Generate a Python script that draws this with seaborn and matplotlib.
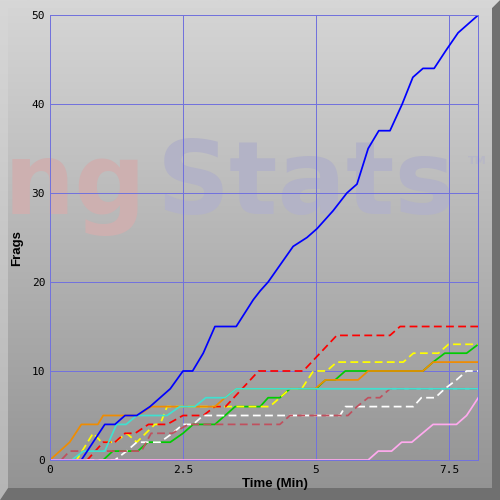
import numpy as np
import pandas as pd
import matplotlib
matplotlib.use("Agg")
import matplotlib.pyplot as plt
from matplotlib.patches import Polygon
import seaborn as sns

# cumulative frags over time (minutes), one pair of lists per player line
blue_t = [0, 0.59, 1.03, 1.22, 1.41, 1.63, 1.88, 2.07, 2.26, 2.38, 2.5, 2.68, 2.88, 3.1, 3.5, 3.82,
          3.95, 4.1, 4.57, 4.83, 5.02, 5.32, 5.58, 5.77, 5.98, 6.18, 6.39, 6.62, 6.82, 7.01, 7.22,
          7.44, 7.67, 8.05]
blue_f = [0, 0, 4, 4, 5, 5, 6, 7, 8, 9, 10, 10, 12, 15, 15, 18,
          19, 20, 24, 25, 26, 28, 30, 31, 35, 37, 37, 40, 43, 44, 44,
          46, 48, 50]

red_t = [0, 0.7, 1.0, 1.22, 1.41, 1.6, 1.85, 2.2, 2.5, 2.88, 3.1, 3.3, 3.92, 4.76, 5.39, 6.39, 6.58, 8.05]
red_f = [0, 0, 2, 2, 3, 3, 4, 4, 5, 5, 6, 6, 10, 10, 14, 14, 15, 15]

yellow_t = [0, 0.5, 0.81, 0.97, 1.22, 1.44, 1.63, 1.97, 2.07, 2.2, 4.13, 4.32, 4.51, 4.73, 4.95,
            5.2, 5.39, 6.64, 6.83, 7.3, 7.49, 8.05]
yellow_f = [0, 0, 3, 2, 2, 3, 2, 4, 4, 6, 6, 7, 8, 8, 10,
            10, 11, 11, 12, 12, 13, 13]

green_t = [0, 1.0, 1.18, 1.65, 1.84, 2.26, 2.5, 2.69, 3.1, 3.48, 3.95, 4.1, 4.32, 4.51, 5.0, 5.18,
           5.36, 5.55, 7.01, 7.2, 7.42, 7.83, 8.05]
green_f = [0, 0, 1, 1, 2, 2, 3, 4, 4, 6, 6, 7, 7, 8, 8, 9,
           9, 10, 10, 11, 12, 12, 13]

orange_t = [0, 0.37, 0.59, 0.9, 1.0, 1.65, 1.9, 3.1, 3.29, 3.5, 4.98, 5.18, 5.79, 5.98, 7.01, 7.2, 8.05]
orange_f = [0, 2, 4, 4, 5, 5, 6, 6, 7, 8, 8, 9, 9, 10, 10, 11, 11]

cyan_t = [0, 0.41, 0.63, 1.03, 1.25, 1.43, 1.63, 2.2, 2.44, 2.72, 2.93, 3.29, 3.5, 8.05]
cyan_f = [0, 0, 1, 1, 4, 4, 5, 5, 6, 6, 7, 7, 8, 8]

white_t = [0, 1.22, 1.44, 1.63, 2.07, 2.3, 2.5, 2.69, 2.88, 5.45, 5.55, 6.83, 6.98, 7.24, 7.42,
           7.64, 7.83, 8.05]
white_f = [0, 0, 1, 2, 2, 3, 4, 4, 5, 5, 6, 6, 7, 7, 8,
           9, 10, 10]

rose_t = [0, 0.21, 0.37, 1.72, 1.9, 2.3, 2.6, 4.32, 4.51, 5.6, 5.77, 5.98, 6.2, 6.39, 8.05]
rose_f = [0, 0, 1, 1, 3, 3, 4, 4, 5, 5, 6, 7, 7, 8, 8]

pink_t = [0, 5.98, 6.17, 6.42, 6.61, 6.8, 7.0, 7.2, 7.64, 7.83, 8.05]
pink_f = [0, 0, 1, 1, 2, 2, 3, 4, 4, 5, 7]

x_ticks = [0, 2.5, 5, 7.5]
x_labels = ["0", "2.5", "5", "7.5"]
y_ticks = [0, 10, 20, 30, 40, 50]

# draw order, colour, dashed?
lines = [
    ("green", green_t, green_f, "#00cc00", False),
    ("yellow", yellow_t, yellow_f, "#ffff00", True),
    ("red", red_t, red_f, "#ff0000", True),
    ("white", white_t, white_f, "#ffffff", True),
    ("rose", rose_t, rose_f, "#c0505e", True),
    ("orange", orange_t, orange_f, "#f08c00", False),
    ("cyan", cyan_t, cyan_f, "#40e0d0", False),
    ("blue", blue_t, blue_f, "#0000ff", False),
    ("pink", pink_t, pink_f, "#ffaaee", False),
]

frames = []
for name, t, f, _, _ in lines:
    frames.append(pd.DataFrame({"player": name, "time": t, "frags": f}))
df = pd.concat(frames, ignore_index=True)

fig = plt.figure(figsize=(5, 5), dpi=100)

# background panel: vertical grey gradient with a bevel
bg = fig.add_axes([0, 0, 1, 1], zorder=0)
grad = np.linspace(214, 146, 256)[:, None] / 255.0
grad = np.repeat(grad, 2, axis=1)
bg.imshow(np.dstack([grad, grad, grad]), extent=[0, 1, 0, 1], aspect="auto")
bg.add_patch(Polygon([[0, 0], [1, 0], [1, 1], [0.984, 0.984], [0.984, 0.024], [0.016, 0.024]],
                     closed=True, facecolor="#707070", edgecolor="none"))
bg.add_patch(Polygon([[0, 0], [0.016, 0.024], [0.016, 0.984], [0.984, 0.984], [1, 1], [0, 1]],
                     closed=True, facecolor="#d8d8d8", edgecolor="none", alpha=0.5))
# faint watermark
bg.text(0.294, 0.572, "ng", ha="right", va="baseline", fontsize=72, fontweight="bold",
        color="#cdb0b0", family="DejaVu Sans")
bg.text(0.314, 0.572, "Stats", ha="left", va="baseline", fontsize=73, fontweight="bold",
        color="#b3b3c6", family="DejaVu Sans")
bg.text(0.936, 0.673, "TM", ha="left", va="baseline", fontsize=8, fontweight="bold",
        color="#b8b8c6", family="DejaVu Sans")
bg.set_xlim(0, 1)
bg.set_ylim(0, 1)
bg.axis("off")

ax = fig.add_axes([0.1, 0.08, 0.8566, 0.89], zorder=1)
ax.set_facecolor("none")

for name, _, _, color, dashed in lines:
    sub = df[df["player"] == name]
    style = (0, (4.5, 2.5)) if dashed else "-"
    sns.lineplot(data=sub, x="time", y="frags", ax=ax, color=color, linestyle=style,
                 lw=1.25, estimator=None, sort=False, legend=False)

ax.set_xlim(0, 8.05)
ax.set_ylim(0, 50)
ax.set_xticks(x_ticks)
ax.set_xticklabels(x_labels)
ax.set_yticks(y_ticks)
ax.grid(True, color="#7272dc", lw=0.5, antialiased=False)
ax.set_axisbelow(True)
for s in ax.spines.values():
    s.set_color("#7272dc")
    s.set_linewidth(0.5)
    s.set_antialiased(False)
ax.tick_params(length=0, labelsize=8, colors="black", pad=3.5)
for lab in ax.get_xticklabels() + ax.get_yticklabels():
    lab.set_family("DejaVu Sans Mono")
ax.set_xlabel("")
ax.set_ylabel("")

fig.text(0.55, 0.032, "Time (Min)", ha="center", va="center", fontsize=9.5,
         fontweight="bold", family="Liberation Sans")
fig.text(0.034, 0.503, "Frags", ha="center", va="center", rotation=90, fontsize=9.5,
         fontweight="bold", family="Liberation Sans")

fig.savefig("out.png", dpi=100)
